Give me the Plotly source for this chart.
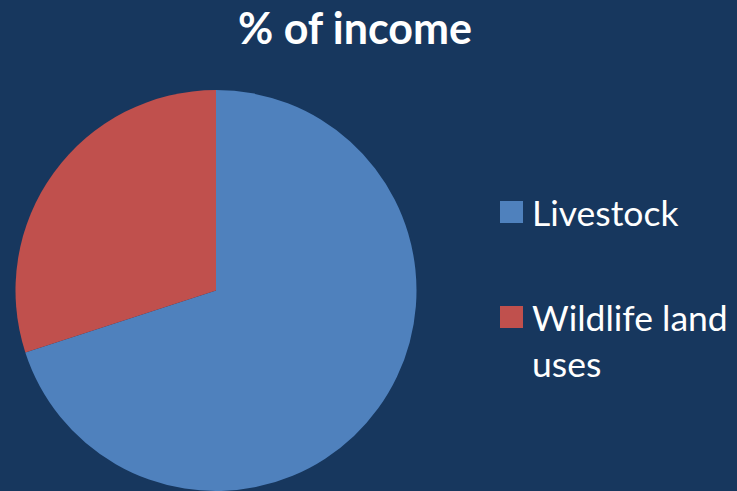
import plotly.graph_objects as go

categories = ["Livestock", "Wildlife land uses"]
legend_labels = ["Livestock", "Wildlife land<br>uses"]
values = [70, 30]
colors = ["#4F81BD", "#C0504D"]

W, H = 737, 491
BG = "#17375E"
FONT = "Lato"

fig = go.Figure(go.Pie(
    labels=categories,
    values=values,
    sort=False,
    direction="clockwise",
    rotation=0,
    marker=dict(colors=colors, line=dict(width=0)),
    textinfo="none",
    hoverinfo="label+percent",
    showlegend=False,
    domain=dict(x=[15 / W, 417 / W], y=[0, 1 - 90 / H]),
))

# manual legend (squares + labels)
shapes = []
annotations = []
legend_rows = [212, 317]  # square centre y (px from top)
for lab, col, yc in zip(legend_labels, colors, legend_rows):
    shapes.append(dict(type="rect", xref="paper", yref="paper",
                       x0=500 / W, x1=523 / W,
                       y0=1 - (yc + 11) / H, y1=1 - (yc - 11) / H,
                       fillcolor=col, line=dict(width=0)))
    annotations.append(dict(text=lab, xref="paper", yref="paper",
                            x=530 / W, y=1 - (yc - 23) / H,
                            xanchor="left", yanchor="top", align="left",
                            showarrow=False,
                            font=dict(family=FONT, size=35.5, color="white")))

fig.update_layout(
    width=W, height=H,
    margin=dict(l=0, r=0, t=0, b=0),
    paper_bgcolor=BG, plot_bgcolor=BG,
    title=dict(text="<b>% of income</b>", x=355 / W, xanchor="center",
               xref="paper", y=1 - 29 / H, yanchor="middle", yref="paper",
               font=dict(family=FONT, size=43, color="white")),
    shapes=shapes,
    annotations=annotations,
)

fig.write_html("out.html")
